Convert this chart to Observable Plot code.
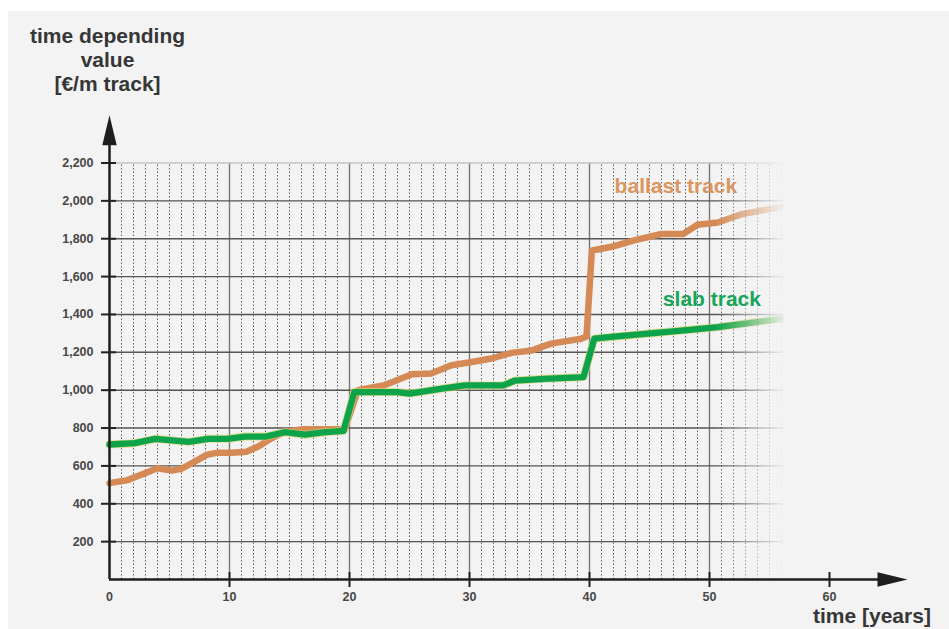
<!DOCTYPE html>
<html>
<head>
<meta charset="utf-8">
<script src="https://cdn.jsdelivr.net/npm/d3@7"></script>
<script src="https://cdn.jsdelivr.net/npm/@observablehq/plot@0.6"></script>
<style>
html, body { margin: 0; padding: 0; background: #fff; }
#wrap { position: relative; width: 949px; height: 629px; overflow: hidden; font-family: "Liberation Sans", Arial, sans-serif; }
#panel { position: absolute; left: 8px; top: 11px; right: 0; bottom: 0; background: #f3f3f3; }
#chart { position: absolute; left: 0; top: 0; }
.ttl { position: absolute; font-weight: bold; font-size: 21px; line-height: 23.7px; color: #363636; white-space: nowrap; }
#ytitle { left: 7.5px; top: 24.2px; width: 200px; text-align: center; }
#xtitle { left: 813px; top: 604px; }
</style>
</head>
<body>
<div id="wrap">
  <div id="panel"></div>
  <div id="chart"></div>
  <div class="ttl" id="ytitle">time depending<br>value<br>[€/m track]</div>
  <div class="ttl" id="xtitle">time [years]</div>
</div>
<script>
// ---- data ----
const ballastYears  = [0, 1.5, 2.9, 4, 5.2, 6, 7.1, 8.1, 9, 10.2, 11.4, 12.4, 13.5, 14.6, 16, 19.6, 20.7, 22.9, 25.2, 26.8, 28.5, 30.2, 31.8, 33.5, 35.2, 36.8, 39.3, 39.75, 40.2, 41.75, 43.8, 46, 47.8, 49, 50.7, 52.7, 56];
const ballastValues = [509, 525, 560, 588, 575, 585, 623, 658, 670, 670, 675, 702, 746, 781, 793, 793, 1000, 1026, 1084, 1088, 1132, 1149, 1167, 1197, 1210, 1246, 1272, 1284, 1738, 1756, 1793, 1825, 1825, 1874, 1886, 1930, 1968];

const slabYears  = [0, 2.1, 3.8, 5.2, 6.6, 8.2, 9.8, 11.3, 13, 14.6, 16.3, 18, 19.5, 20.4, 24, 25, 27.7, 29.6, 32.8, 33.8, 36.2, 39.5, 40.4, 41.8, 47.9, 50.7, 56];
const slabValues = [713, 720, 743, 735, 727, 743, 743, 755, 755, 778, 765, 778, 785, 990, 990, 982, 1008, 1025, 1025, 1051, 1060, 1069, 1272, 1281, 1316, 1333, 1377];

const labelTexts  = ["ballast track", "slab track"];
const labelYears  = [47.2, 50.2];
const labelValues = [2077, 1478];
const labelColors = ["#d9965f", "#17a55a"];

const yTicks = [200, 400, 600, 800, 1000, 1200, 1400, 1600, 1800, 2000, 2200];
const xTickLabels = [0, 10, 20, 30, 40, 50, 60];
const xTickMarks = [10, 20, 30, 40, 50, 60];
const majorGridX = [10, 20, 30, 40, 50];
const minorGridX = d3.range(1, 57).filter(d => d % 10 !== 0);
const gridTop = 2200, gridRight = 56.5;
const xAxisEnd = 66.5, yAxisEnd = 2452;
const fadeStart = 50.5, fadeEnd = 56.4;

// ---- tables ----
const ballast = ballastYears.map((y, i) => ({year: y, value: ballastValues[i]}));
const slab = slabYears.map((y, i) => ({year: y, value: slabValues[i]}));
const labels = labelTexts.map((t, i) => ({text: t, year: labelYears[i], value: labelValues[i], color: labelColors[i]}));

const arrowHead = {draw(ctx) { ctx.moveTo(0, 0); ctx.lineTo(7.2, 30); ctx.lineTo(-7.2, 30); ctx.closePath(); }};
const axisColor = "#1e1e1e";

const chart = Plot.plot({
  width: 949, height: 629,
  marginLeft: 109, marginRight: 120, marginTop: 162.5, marginBottom: 50,
  x: {domain: [0, 60]},
  y: {domain: [0, 2200]},
  style: {background: "none", fontFamily: "Liberation Sans, Arial, sans-serif"},
  marks: [
    Plot.ruleX(minorGridX, {y1: 0, y2: gridTop, stroke: "#5e5e5e", strokeWidth: 1, strokeDasharray: "1.5,2", ariaDescription: "fade"}),
    Plot.ruleX(majorGridX, {y1: 0, y2: gridTop, stroke: "#777", strokeWidth: 1.4, ariaDescription: "fade"}),
    Plot.ruleY(yTicks.filter(d => d < gridTop), {x1: 0, x2: gridRight, stroke: "#555", strokeWidth: 1.4, ariaDescription: "fade"}),
    Plot.ruleY([gridTop], {x1: 0, x2: gridRight, stroke: "#c4c4c4", strokeWidth: 1.4, ariaDescription: "fade"}),
    Plot.line(ballast, {x: "year", y: "value", stroke: "#d58a55", strokeWidth: 6.5, strokeLinejoin: "round", ariaDescription: "fadeline"}),
    Plot.line(slab, {x: "year", y: "value", stroke: "#d8d36c", strokeOpacity: 0.7, strokeWidth: 8, strokeLinejoin: "round", ariaDescription: "fadeline"}),
    Plot.line(slab, {x: "year", y: "value", stroke: "#0ea34b", strokeWidth: 6.3, strokeLinejoin: "round", ariaDescription: "fadeline"}),
    Plot.text(labels, {x: "year", y: "value", text: "text", fill: "color", fontSize: 21, fontWeight: "bold"}),
    Plot.ruleX([0], {y1: 0, y2: yAxisEnd - 150, stroke: axisColor, strokeWidth: 2.5}),
    Plot.ruleY([0], {x1: 0, x2: xAxisEnd - 2, stroke: axisColor, strokeWidth: 2.5}),
    Plot.dot([{x: 0, y: yAxisEnd}], {x: "x", y: "y", symbol: arrowHead, fill: axisColor, stroke: "none"}),
    Plot.dot([{x: xAxisEnd, y: 0}], {x: "x", y: "y", symbol: arrowHead, fill: axisColor, stroke: "none", rotate: 90}),
    Plot.axisY(yTicks, {tickSize: 15, tickPadding: 8, dx: 7, stroke: "#222", strokeWidth: 2, fill: "#474747", fontSize: 12.5, fontWeight: "bold", tickFormat: d3.format(","), label: null}),
    Plot.axisX(xTickMarks, {tickSize: 15, dy: -7, stroke: "#222", strokeWidth: 2, tickFormat: () => "", label: null}),
    Plot.axisX(xTickLabels, {tickSize: 0, tickPadding: 13, fill: "#474747", fontSize: 12.5, fontWeight: "bold", label: null})
  ]
});

// fade-out mask for the grid and the series on the right
const xs = chart.scale("x");
const fx0 = xs.apply(fadeStart), fx1 = xs.apply(fadeEnd);
const ns = "http://www.w3.org/2000/svg";
const defs = document.createElementNS(ns, "defs");
defs.innerHTML =
  `<linearGradient id="fadeGrad" gradientUnits="userSpaceOnUse" x1="${fx0}" y1="0" x2="${fx1}" y2="0">` +
  `<stop offset="0" stop-color="#fff"/><stop offset="1" stop-color="#000"/></linearGradient>` +
  `<mask id="fadeMask" maskUnits="userSpaceOnUse" x="-10" y="-10" width="970" height="650">` +
  `<rect x="-10" y="-10" width="970" height="650" fill="url(#fadeGrad)"/></mask>` +
  `<filter id="soft" x="-5%" y="-5%" width="110%" height="110%"><feGaussianBlur stdDeviation="0.6"/></filter>`;
chart.prepend(defs);
chart.querySelectorAll('[aria-description="fade"]').forEach(g => g.setAttribute("mask", "url(#fadeMask)"));
chart.querySelectorAll('[aria-description="fadeline"]').forEach(g => {
  g.setAttribute("mask", "url(#fadeMask)");
  g.setAttribute("filter", "url(#soft)");
});

document.getElementById("chart").appendChild(chart);
</script>
</body>
</html>
